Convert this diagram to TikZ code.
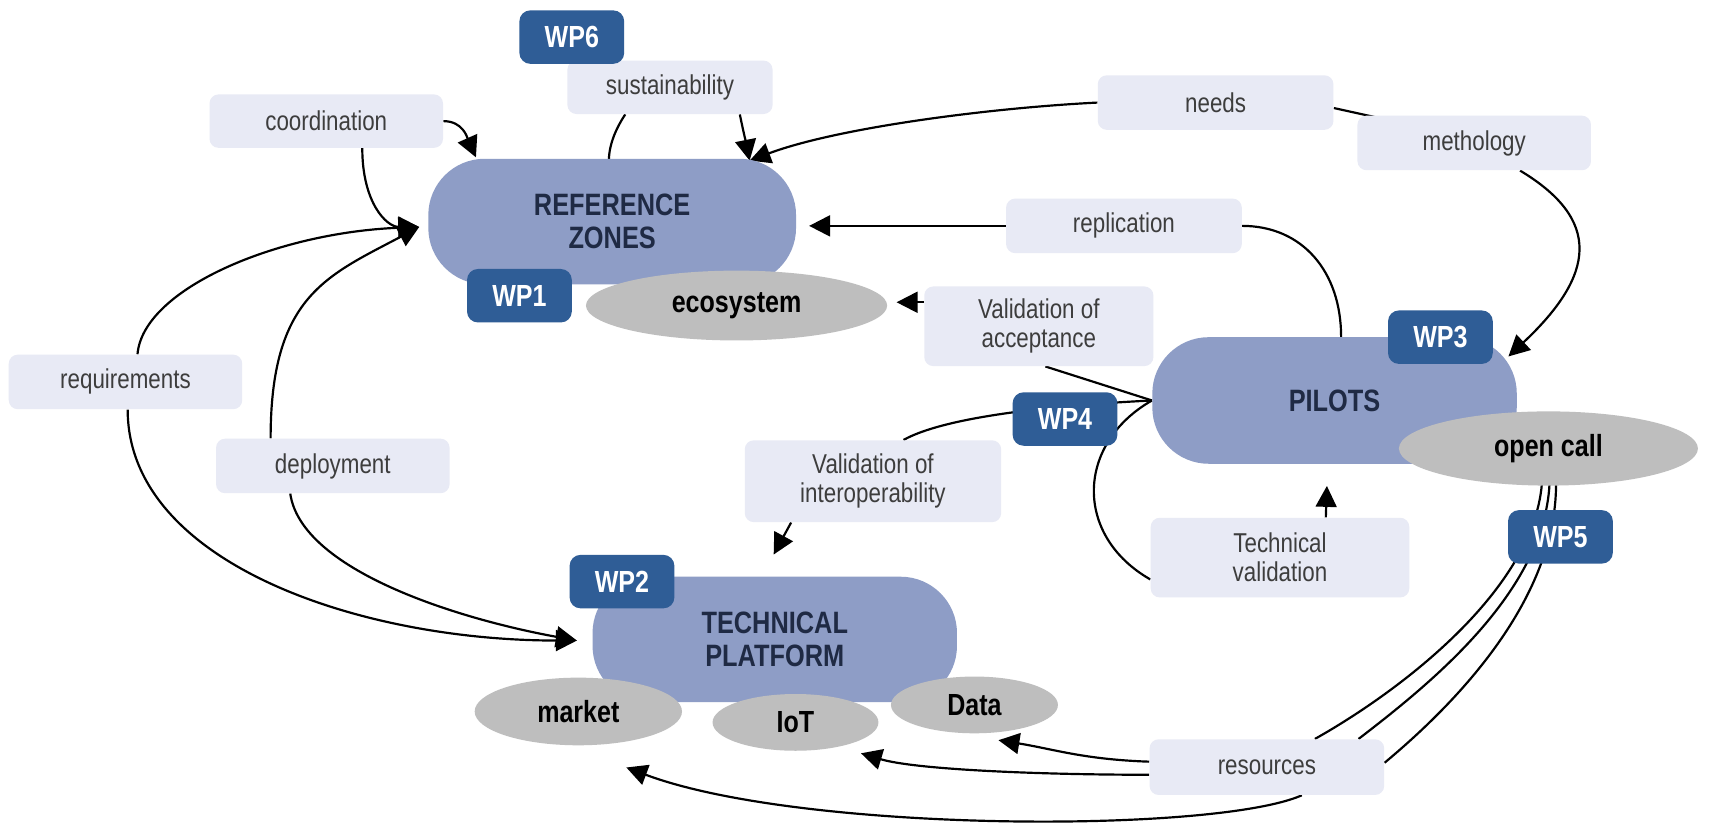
\documentclass[tikz,border=0pt]{standalone}
\usepackage{fontspec}
\setmainfont{Liberation Sans}[FakeStretch=0.82]
\usetikzlibrary{arrows.meta,backgrounds,calc,shapes.geometric}
\definecolor{pillc}{HTML}{8E9DC6}
\definecolor{wpc}{HTML}{2F5D96}
\definecolor{lblc}{HTML}{E8EAF5}
\definecolor{ellc}{HTML}{BEBEBE}
\definecolor{txtc}{HTML}{3D3D3D}
\definecolor{navy}{HTML}{1F2A44}
\begin{document}
\begin{tikzpicture}[x=0.6pt,y=-0.6pt,
  pill/.style={fill=pillc, rounded corners=31pt, align=center, text=navy,
    font=\fontsize{17}{18.5}\selectfont\bfseries, inner sep=0pt},
  wp/.style={fill=wpc, rounded corners=6pt, text=white,
    font=\fontsize{16.8}{18}\selectfont\bfseries, minimum width=57.6pt, minimum height=29.4pt, inner sep=0pt},
  lbl/.style={fill=lblc, rounded corners=5pt, text=txtc, align=center,
    font=\fontsize{15}{16}\selectfont, inner sep=0pt},
  ell/.style={ellipse, fill=ellc, text=black,
    font=\fontsize{16.8}{18}\selectfont\bfseries, inner sep=0pt},
  con/.style={line width=1.2pt, draw=black},
  arr/.style={con, -{Triangle[length=11.5pt,width=11.5pt]}},
]
\useasboundingbox (0,0) rectangle (1568,756);

% main blocks
\node[pill, minimum width=202.2pt, minimum height=69pt] (rz) at (561,203) {REFERENCE\\ZONES};
\node[pill, minimum width=200.4pt, minimum height=69.6pt] (pil) at (1223,367) {PILOTS};
\node[pill, minimum width=200.4pt, minimum height=69pt] (tp) at (710,586) {TECHNICAL\\PLATFORM};

% ellipses
\node[ell, minimum width=165.6pt, minimum height=38.4pt] (eco) at (675,280) {ecosystem};
\node[ell, minimum width=164.4pt, minimum height=40.8pt] (oc) at (1419,411) {open call};
\node[ell, minimum width=114pt, minimum height=37.2pt] (mkt) at (530,652) {market};
\node[ell, minimum width=91.2pt, minimum height=31.2pt] (iot) at (729,662) {IoT};
\node[ell, minimum width=91.8pt, minimum height=31.2pt] (data) at (893,646) {Data};

% labels
\node[lbl, minimum width=128.4pt, minimum height=29.4pt] (coord) at (299,111) {coordination};
\node[lbl, minimum width=112.8pt, minimum height=29.4pt] (sust) at (614,80) {sustainability};
\node[lbl, minimum width=129.6pt, minimum height=30pt] (needs) at (1114,94) {needs};
\node[lbl, minimum width=128.4pt, minimum height=30pt] (meth) at (1351,131) {methology};
\node[lbl, minimum width=129.6pt, minimum height=30pt] (repl) at (1030,207) {replication};
\node[lbl, minimum width=126pt, minimum height=43.8pt] (va) at (952,299) {Validation of\\acceptance};
\node[lbl, minimum width=128.4pt, minimum height=30pt] (req) at (115,350) {requirements};
\node[lbl, minimum width=128.4pt, minimum height=30pt] (dep) at (305,427) {deployment};
\node[lbl, minimum width=141pt, minimum height=45pt] (vi) at (800,441) {Validation of\\interoperability};
\node[lbl, minimum width=142.2pt, minimum height=43.8pt] (tv) at (1173,511) {Technical\\validation};
\node[lbl, minimum width=129pt, minimum height=30.6pt] (res) at (1161,703) {resources};

% work packages
\node[wp] (wp6) at (524,34) {WP6};
\node[wp] (wp1) at (476,271) {WP1};
\node[wp] (wp3) at (1320,309) {WP3};
\node[wp] (wp4) at (976,384) {WP4};
\node[wp] (wp5) at (1430,492) {WP5};
\node[wp] (wp2) at (570,533) {WP2};

% arrow end points
\coordinate (rzL) at ($(rz.west)+(-8,5)$);
\coordinate (rzT) at ($(rz.north)+(126,2)$);
\coordinate (tpL) at ($(tp.west)+(-14,1)$);
\coordinate (vaA) at ($(va.west)+(0,-22)$);

\begin{pgfonlayer}{background}
\fill[white] (0,0) rectangle (1568,756);
% into reference zones
\draw[arr] (coord.east) .. controls +(18,0) and +(-8,-18) .. ($(rz.north west)+(44,-1)$);
\draw[arr] ($(coord.south)+(33,0)$) .. controls +(0,50) and +(-30,0) .. (rzL);
\draw[arr] ($(req.north)+(11,0)$) .. controls +(5,-60) and +(-130,5) .. (rzL);
\draw[arr] ($(dep.north)+(-57,0)$) .. controls +(0,-130) and +(-85,45) .. (rzL);
\draw[con] ($(sust.south)+(-41,0)$) .. controls +(-8,12) and +(0,-15) .. ($(rz.north)+(-3,2)$);
\draw[arr] ($(sust.south)+(64,0)$) .. controls +(3,15) and +(-3,-15) .. (rzT);
\draw[arr] (needs.west) .. controls +(-100,5) and +(80,-30) .. (rzT);
\draw[con] ($(needs.east)+(0,5)$) -- ($(meth.north west)+(18,2)$);
\draw[arr] ($(meth.south)+(42,0)$) .. controls +(75,45) and +(80,-75) .. ($(pil.north east)+(-8,18)$);
\draw[con] ($(pil.north)+(6,0)$) .. controls +(0,-60) and +(55,0) .. (repl.east);
\draw[arr, shorten >=7pt] (repl.west) -- (repl.west -| rz.east);
\draw[arr, shorten >=5pt] (vaA) -- (vaA -| eco.east);
% pilots links
\draw[con] ($(va.south)+(6,0)$) -- (pil.west);
\draw[con] (pil.west) .. controls +(-60,3) and +(45,-25) .. ($(vi.north)+(28,0)$);
\draw[arr] ($(vi.south)+(-75,0)$) -- ($(tp.north)+(-1,-20)$);
\draw[con] (pil.west) .. controls +(-70,40) and +(-70,-40) .. ($(tv.west)+(0,20)$);
\draw[arr] ($(tv.north)+(42,0)$) -- ($(pil.south)+(-7,20)$);
% into technical platform
\draw[arr] ($(req.south)+(2,0)$) .. controls +(0,140) and +(-200,0) .. (tpL);
\draw[arr] ($(dep.south)+(-39,0)$) .. controls +(10,70) and +(-110,-20) .. (tpL);
% open call -> resources
\draw[con] ($(oc.south)+(-6,-2)$) .. controls +(-8,97) and +(80,-45) .. ($(res.north)+(44,0)$);
\draw[con] ($(oc.south)+(1,-2)$) .. controls +(-5,100) and +(65,-50) .. ($(res.north)+(84,0)$);
\draw[con] ($(oc.south)+(7,-2)$) .. controls +(0,110) and +(60,-50) .. ($(res.east)+(0,-4)$);
% resources -> components
\draw[arr] ($(res.west)+(0,-5)$) .. controls +(-60,-2) and +(50,8) .. ($(data.south)+(22,6)$);
\draw[arr] ($(res.west)+(0,7)$) .. controls +(-100,0) and +(50,15) .. ($(iot.south)+(60,2)$);
\draw[arr] ($(res.south)+(32,0)$) .. controls +(-80,35) and +(160,60) .. ($(mkt.south)+(44,20)$);
\end{pgfonlayer}
\end{tikzpicture}
\end{document}
